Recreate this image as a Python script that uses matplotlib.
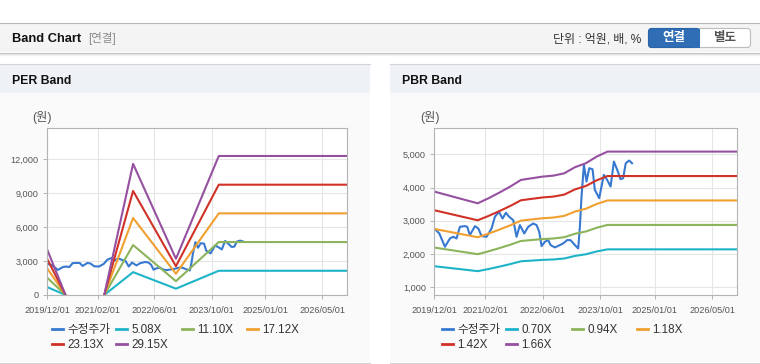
import matplotlib
matplotlib.use('Agg')
import matplotlib.pyplot as plt
import matplotlib.patches as mpatches
import matplotlib.dates as mdates
from matplotlib.lines import Line2D
from matplotlib.ticker import FuncFormatter
import numpy as np
import pandas as pd

plt.rcParams['font.family'] = ['Liberation Sans', 'Noto Sans CJK KR']

W, H = 760, 364

# 수정주가 (adjusted price)
price_dates = ['2019-12-01', '2020-01-12', '2020-02-29', '2020-04-11', '2020-05-09', '2020-06-06',
               '2020-07-04', '2020-08-15', '2020-09-04', '2020-09-26', '2020-11-08', '2020-12-06',
               '2021-01-03', '2021-02-14', '2021-03-28', '2021-04-25', '2021-05-29', '2021-06-29',
               '2021-07-27', '2021-08-24', '2021-09-27', '2021-10-25', '2021-11-22', '2021-12-29',
               '2022-01-31', '2022-03-14', '2022-04-12', '2022-05-04', '2022-05-24', '2022-06-21',
               '2022-07-19', '2022-08-08', '2022-09-13', '2022-10-25', '2022-11-22', '2022-12-26',
               '2023-01-23', '2023-03-01', '2023-03-29', '2023-04-12', '2023-04-26', '2023-05-16',
               '2023-06-07', '2023-06-30', '2023-07-28', '2023-08-16', '2023-09-22', '2023-10-31',
               '2023-11-28', '2023-12-27', '2024-01-24', '2024-02-21', '2024-03-20', '2024-04-11',
               '2024-05-03', '2024-05-31', '2024-06-11', '2024-06-25']
price = [2770, 2620, 2220, 2470, 2520, 2470,
         2820, 2840, 2820, 2570, 2840, 2770,
         2540, 2520, 2770, 3120, 3270, 3070,
         3240, 3120, 3020, 2520, 2870, 2620,
         2820, 2920, 2870, 2670, 2240, 2370,
         2420, 2270, 2200, 2270, 2320, 2420,
         2420, 2270, 2170, 2820, 3730, 4680,
         4180, 4580, 4550, 3930, 3680, 4380,
         4230, 4030, 4780, 4530, 4250, 4280,
         4730, 4810, 4780, 4730]

# PER band
per_dates = ['2019-12-01', '2020-05-01', '2020-12-01', '2021-04-01', '2021-12-01',
             '2022-12-01', '2023-12-01', '2026-11-30']
per_labels = ['5.08X', '11.10X', '17.12X', '23.13X', '29.15X']
per_508 = [696, 15, np.nan, 15, 2022, 559, 2144, 2144]
per_1110 = [1521, 33, np.nan, 33, 4418, 1221, 4684, 4684]
per_1712 = [2345, 51, np.nan, 51, 6814, 1883, 7225, 7225]
per_2313 = [3169, 69, np.nan, 69, 9206, 2544, 9761, 9761]
per_2915 = [3994, 87, np.nan, 87, 11602, 3207, 12301, 12301]

# PBR band
pbr_dates = ['2019-12-01', '2020-12-01', '2021-03-01', '2021-06-01', '2021-09-01', '2021-12-01',
             '2022-03-01', '2022-06-01', '2022-09-01', '2022-12-01', '2023-03-01', '2023-06-01',
             '2023-09-01', '2023-12-01', '2026-11-30']
pbr_labels = ['0.70X', '0.94X', '1.18X', '1.42X', '1.66X']
pbr_070 = [1635, 1487, 1550, 1622, 1698, 1783, 1804, 1825, 1838, 1867, 1944, 1994, 2079, 2142, 2142]
pbr_094 = [2196, 1997, 2081, 2178, 2280, 2394, 2422, 2451, 2468, 2507, 2610, 2678, 2792, 2876, 2876]
pbr_118 = [2756, 2506, 2613, 2734, 2863, 3005, 3041, 3076, 3098, 3147, 3277, 3362, 3505, 3611, 3611]
pbr_142 = [3317, 3016, 3144, 3290, 3445, 3617, 3659, 3702, 3728, 3787, 3943, 4046, 4217, 4345, 4345]
pbr_166 = [3878, 3526, 3675, 3846, 4027, 4228, 4278, 4328, 4358, 4427, 4610, 4729, 4930, 5080, 5080]

x_ticks = ['2019-12-01', '2021-02-01', '2022-06-01', '2023-10-01', '2025-01-01', '2026-05-01']

price_color = '#3779d0'
band_colors = ['#1eb4c8', '#8cb45a', '#f0a030', '#d03228', '#9550a0']

fig = plt.figure(figsize=(W / 100, H / 100), dpi=100)
fig.patch.set_facecolor('white')

# background layer in pixel coordinates
bg = fig.add_axes([0, 0, 1, 1], zorder=-5)
bg.set_xlim(0, W)
bg.set_ylim(H, 0)
bg.axis('off')

bg.add_patch(mpatches.Rectangle((0, 23), W, 29, fc='#f4f4f4', ec='none'))
bg.plot([0, W], [22.5, 22.5], color='#b9b9b9', lw=0.8)
bg.plot([0, W], [52.5, 52.5], color='#c4c4c4', lw=0.8)
bg.plot([0, W], [53.5, 53.5], color='#e2e2e2', lw=0.8)
bg.plot([0, W], [54.5, 54.5], color='#f2f2f2', lw=0.8)

for x0, x1 in [(0, 370), (390, W)]:
    bg.add_patch(mpatches.Rectangle((x0, 64), x1 - x0, 29, fc='#eef1f6', ec='none'))
    bg.add_patch(mpatches.Rectangle((x0, 93), x1 - x0, 269, fc='#fafafa', ec='none'))
    bg.plot([x0, x1], [63.5, 63.5], color='#d3d3d3', lw=0.8)
    bg.plot([x0, x1], [362.5, 362.5], color='#d3d3d3', lw=0.8)

bg.text(12, 38.5, 'Band Chart', fontsize=9.3, fontweight='bold', color='#111', va='center')
bg.text(88, 38.5, '[연결]', fontsize=8.3, color='#8a8a8a', va='center')
bg.text(641, 39, '단위 : 억원, 배, %', fontsize=8.6, color='#333', va='center', ha='right')

bg.add_patch(mpatches.FancyBboxPatch((648.5, 28.5), 102, 19, boxstyle='round,pad=0,rounding_size=3',
                                     fc='white', ec='#bdbdbd', lw=0.8))
bg.add_patch(mpatches.FancyBboxPatch((648.5, 28.5), 51, 19, boxstyle='round,pad=0,rounding_size=3',
                                     fc='#2f6db5', ec='#2a64a8', lw=0.8))
bg.add_patch(mpatches.Rectangle((692, 28.5), 8, 19, fc='#2f6db5', ec='none'))
bg.text(674, 38.5, '연결', fontsize=9, fontweight='bold', color='white', va='center', ha='center')
bg.text(725, 38.5, '별도', fontsize=9, fontweight='bold', color='#555', va='center', ha='center')

bg.text(12, 80.5, 'PER Band', fontsize=8.8, fontweight='bold', color='#111', va='center')
bg.text(402, 80.5, 'PBR Band', fontsize=8.8, fontweight='bold', color='#111', va='center')
bg.text(32, 118, '(원)', fontsize=8.8, color='#555', va='center')
bg.text(420, 118, '(원)', fontsize=8.8, color='#555', va='center')


def to_fig(x, y, w, h):
    return [x / W, 1 - (y + h) / H, w / W, h / H]


def style_axes(ax, ylim, yticks):
    ax.set_facecolor('white')
    ax.set_xlim(pd.Timestamp('2019-12-01'), pd.Timestamp('2026-11-30'))
    ax.set_ylim(*ylim)
    ax.set_yticks(yticks)
    ax.set_xticks(pd.to_datetime(x_ticks))
    ax.xaxis.set_major_formatter(mdates.DateFormatter('%Y/%m/%d'))
    ax.yaxis.set_major_formatter(FuncFormatter(lambda v, p: f'{v:,.0f}'))
    ax.grid(True, color='#e6e6e6', lw=0.8)
    ax.set_axisbelow(True)
    for s in ax.spines.values():
        s.set_color('#b4b4b4')
        s.set_linewidth(0.8)
    ax.tick_params(axis='both', length=3, width=0.7, color='#b4b4b4',
                   labelsize=6.6, labelcolor='#555')
    ax.tick_params(axis='x', pad=5)
    ax.tick_params(axis='y', pad=3)


def add_legend(items, cols_px, y_px):
    # items: list of (label, color); laid out row-wise over fixed columns
    ncol = len(cols_px)
    for c, xc in enumerate(cols_px):
        col_items = items[c::ncol]
        handles = [Line2D([], [], color=col, lw=2) for _, col in col_items]
        labels = [lab for lab, _ in col_items]
        fig.legend(handles, labels, loc='upper left',
                   bbox_to_anchor=(xc / W, 1 - y_px / H), frameon=False,
                   fontsize=8.4, handlelength=0.95, handletextpad=0.35,
                   labelspacing=0.28, borderpad=0, borderaxespad=0,
                   labelcolor='#333')


# PER chart
ax1 = fig.add_axes(to_fig(47.3, 128.3, 300, 166.7))
style_axes(ax1, (0, 14750), [0, 3000, 6000, 9000, 12000])
pd_per = pd.to_datetime(per_dates)
ax1.plot(pd.to_datetime(price_dates), price, color=price_color, lw=1.5)
for vals, col in zip([per_508, per_1110, per_1712, per_2313, per_2915], band_colors):
    ax1.plot(pd_per, vals, color=col, lw=1.5)

# PBR chart
ax2 = fig.add_axes(to_fig(434.3, 128.3, 303, 166.7))
style_axes(ax2, (770, 5780), [1000, 2000, 3000, 4000, 5000])
pd_pbr = pd.to_datetime(pbr_dates)
ax2.plot(pd.to_datetime(price_dates), price, color=price_color, lw=1.5)
for vals, col in zip([pbr_070, pbr_094, pbr_118, pbr_142, pbr_166], band_colors):
    ax2.plot(pd_pbr, vals, color=col, lw=1.5)

add_legend([('수정주가', price_color)] + list(zip(per_labels, band_colors)),
           [52, 116, 182, 247], 324)
add_legend([('수정주가', price_color)] + list(zip(pbr_labels, band_colors)),
           [442, 506, 572, 637], 324)

fig.savefig('out.png', dpi=100)
